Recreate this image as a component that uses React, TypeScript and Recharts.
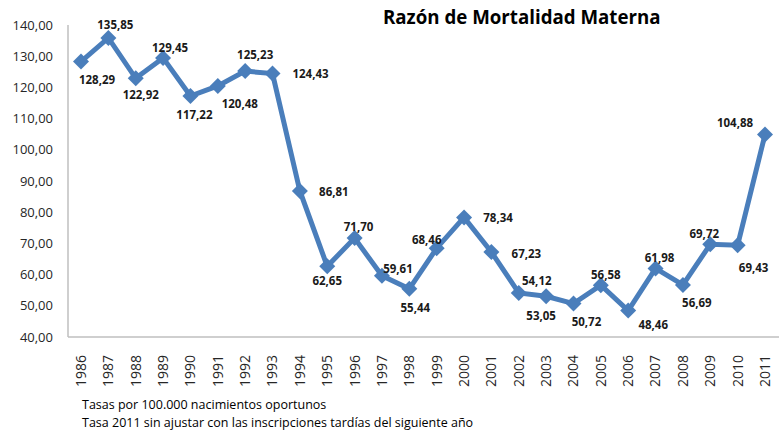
import React from 'react';
import { LineChart, Line, XAxis, YAxis } from 'recharts';

const years = [
  '1986', '1987', '1988', '1989', '1990', '1991', '1992', '1993', '1994', '1995', '1996', '1997', '1998',
  '1999', '2000', '2001', '2002', '2003', '2004', '2005', '2006', '2007', '2008', '2009', '2010', '2011',
];

const rates = [
  128.29, 135.85, 122.92, 129.45, 117.22, 120.48, 125.23, 124.43, 86.81, 62.65, 71.7, 59.61, 55.44,
  68.46, 78.34, 67.23, 54.12, 53.05, 50.72, 56.58, 48.46, 61.98, 56.69, 69.72, 69.43, 104.88,
];

const yTicks = [40, 50, 60, 70, 80, 90, 100, 110, 120, 130, 140];

// where each value label sits relative to its point (dx, dy)
const labelOffsets: [number, number][] = [
  [16, 18], [7, -13], [5, 16], [7, -10], [4, 18], [22, 18], [10, -17], [38, 0], [34, 1], [0, 14],
  [4, -12], [16, -7], [6, 19], [-10, -9], [34, 0], [35, 1], [18, -12], [-5, 19], [13, 18], [5, -11],
  [25, 14], [4, -11], [14, 18], [-6, -11], [16, 22], [-30, -12],
];

const data = years.map((year, i) => ({ year, rate: rates[i] }));

const fmt = (v: number) => v.toFixed(2).replace('.', ',');
const FONT = '"Open Sans", sans-serif';
const BLUE = '#4A7EBB';

const Diamond = (props: any) => {
  const { cx, cy } = props;
  if (cx == null || cy == null) return null;
  const r = 8;
  return (
    <polygon
      points={`${cx},${cy - r} ${cx + r},${cy} ${cx},${cy + r} ${cx - r},${cy}`}
      fill={BLUE}
    />
  );
};

const ValueLabel = (props: any) => {
  const { x, y, index, value } = props;
  const [dx, dy] = labelOffsets[index] || [0, -12];
  return (
    <text
      x={x + dx}
      y={y + dy}
      textAnchor="middle"
      dominantBaseline="central"
      fontFamily={FONT}
      fontWeight={700}
      fontSize={11.5}
      fill="#1a1a1a"
    >
      {fmt(value)}
    </text>
  );
};

const YearTick = (props: any) => {
  const { x, y, payload } = props;
  return (
    <g transform={`translate(${x},${y + 10})`}>
      <text transform="rotate(-90)" textAnchor="end" dy="0.35em" fontFamily={FONT} fontSize={14} fill="#262626">
        {payload.value}
      </text>
    </g>
  );
};

const App: React.FC = () => {
  return (
    <div style={{ position: 'absolute', left: 0, top: 0, width: 779, height: 430, background: '#fff' }}>
      <div
        style={{
          position: 'absolute', left: 383, top: 4, fontFamily: FONT, fontWeight: 700, fontSize: 18.7,
          color: '#000', whiteSpace: 'nowrap',
        }}
      >
        Razón de Mortalidad Materna
      </div>
      <LineChart width={779} height={430} data={data} margin={{ top: 25, right: 0, bottom: 0, left: 0 }}>
        <XAxis
          dataKey="year"
          height={93}
          interval={0}
          padding={{ left: 13, right: 14 }}
          tickLine={false}
          axisLine={{ stroke: '#bfbfbf', strokeWidth: 1.5 }}
          tick={<YearTick />}
        />
        <YAxis
          domain={[40, 140]}
          ticks={yTicks}
          width={68}
          tickSize={0}
          tickMargin={15}
          tickLine={false}
          axisLine={{ stroke: '#bfbfbf', strokeWidth: 1.5 }}
          tickFormatter={fmt}
          tick={{ fontFamily: FONT, fontSize: 13, fill: '#262626' }}
        />
        <Line
          dataKey="rate"
          stroke={BLUE}
          strokeWidth={5}
          dot={<Diamond />}
          activeDot={false}
          label={<ValueLabel />}
          isAnimationActive={false}
        />
      </LineChart>
      <div style={{ position: 'absolute', left: 82, top: 396, fontFamily: FONT, fontSize: 12.5, color: '#000', lineHeight: '18px' }}>
        <div>Tasas por 100.000 nacimientos oportunos</div>
        <div>Tasa 2011 sin ajustar con las inscripciones tardías del siguiente año</div>
      </div>
    </div>
  );
};

export default App;
